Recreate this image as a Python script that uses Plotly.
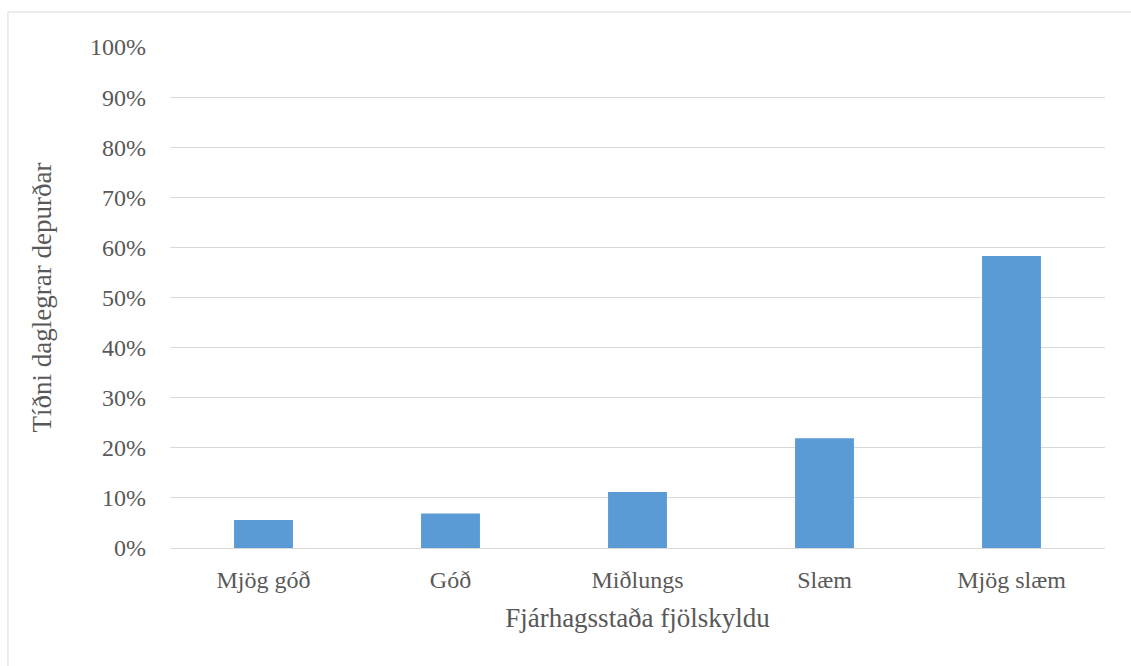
import plotly.graph_objects as go

categories = ["Mjög góð", "Góð", "Miðlungs", "Slæm", "Mjög slæm"]
values = [0.056, 0.069, 0.112, 0.219, 0.583]
y_ticks = [0, 0.1, 0.2, 0.3, 0.4, 0.5, 0.6, 0.7, 0.8, 0.9, 1.0]
y_tick_labels = ["0%", "10%", "20%", "30%", "40%", "50%", "60%", "70%", "80%", "90%", "100%"]

font_family = "Liberation Serif, Times New Roman, serif"
text_color = "#595959"

fig = go.Figure(go.Bar(
    x=categories, y=values,
    marker=dict(color="#5b9bd5", line=dict(width=0)),
    width=0.315,
))

fig.update_layout(
    width=1131, height=666,
    margin=dict(l=170, r=26, t=47, b=118),
    paper_bgcolor="white", plot_bgcolor="white",
    font=dict(family=font_family, color=text_color, size=24),
    showlegend=False,
    xaxis=dict(
        showgrid=False, showline=False, zeroline=False,
        tickfont=dict(size=24, color=text_color),
        ticklabelstandoff=15,
        title=dict(text="Fjárhagsstaða fjölskyldu", font=dict(size=27, color=text_color), standoff=16),
    ),
    yaxis=dict(
        range=[0, 1.0], tickvals=y_ticks, ticktext=y_tick_labels,
        showgrid=True, gridcolor="#d9d9d9", gridwidth=1,
        zeroline=True, zerolinecolor="#d9d9d9", zerolinewidth=1,
        showline=False,
        tickfont=dict(size=24, color=text_color),
        ticklabelstandoff=23,
        title=dict(text="Tíðni daglegrar depurðar", font=dict(size=27, color=text_color), standoff=30),
    ),
    shapes=[
        dict(type="line", xref="paper", yref="paper", x0=-0.1733, x1=1.1, y0=1.0699, y1=1.0699,
             line=dict(color="#d9d9d9", width=1)),
        dict(type="line", xref="paper", yref="paper", x0=-0.1733, x1=-0.1733, y0=-0.25, y1=1.0699,
             line=dict(color="#d9d9d9", width=1)),
    ],
)

fig.write_html("out.html")
